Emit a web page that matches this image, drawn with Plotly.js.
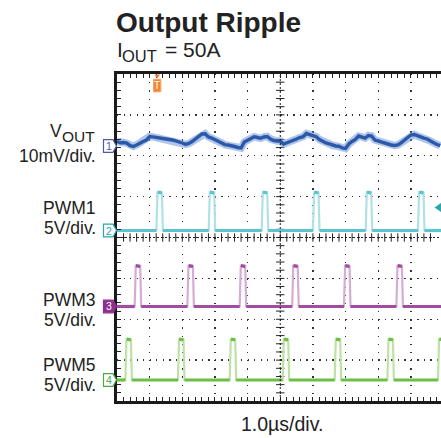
<!DOCTYPE html>
<html><head><meta charset="utf-8">
<script src="https://cdn.plot.ly/plotly-3.0.1.min.js"></script>
<style>html,body{margin:0;padding:0;background:#fff;}#chart{width:441px;height:438px;}</style>
</head><body><div id="chart"></div>
<script>
// ---- data (time in µs, 1.0 µs/div, 0 = left edge of the screen) ----
const voutSampleStepUs = 0.1;
const voutMilliVolts = [
  0.37,0.05,0.12,-0.05,-0.66,-0.85,-0.49,0,0.37,0.73,
  1.59,1.50,1.30,1.15,1.10,0.98,0.95,0.73,0.49,0.32,
  0,-0.35,-0.12,0.37,0.98,1.47,2.20,2.25,1.47,1.22,
  0.86,0.37,0,-0.40,-0.49,-0.61,-0.86,-1.10,-1.22,0.24,
  0.73,1.10,1.54,1.34,1.15,1.47,1.60,0.98,0.61,0.49,
  0.49,-0.24,0.05,0.24,0.61,0.98,1.34,1.55,2.32,2.08,
  1.83,1.54,0.86,0.40,0,-0.24,-0.56,-0.73,-0.80,-1.22,
  -1.34,-0.24,0.37,0.86,1.71,1.50,1.22,1.83,1.71,0.73,
  0.49,0.30,-0.07,-0.37,-0.49,-0.61,-0.49,0.05,0.73,1.22,
  1.96,2.08,1.71,1.50,1.22,0.98,0.49,0,-0.37,-0.66
];
const pwm1RiseUs = [1.216, 2.818, 4.441, 6.012, 7.626, 9.228];
const pwm3RiseUs = [0.551, 2.165, 3.767, 5.375, 6.962, 8.567];
const pwm5RiseUs = [0.266, 1.877, 3.461, 5.084, 6.677, 8.291, 9.841];
const pwmHighVolts = [4.6, 4.9, 4.9];      // PWM1, PWM3, PWM5
const pwmWidthUs = [0.19, 0.19, 0.19];
const channelNames = ['V', 'PWM1', 'PWM3', 'PWM5'];
const channelScaleLabels = ['10mV/div.', '5V/div.', '5V/div.', '5V/div.'];
const channelUnitsPerDiv = [10, 5, 5, 5];   // mV/div for VOUT, V/div for PWM
const timeBaseLabel = '1.0µs/div.';
const titleText = 'Output Ripple';

// ---- screen geometry ----
const L = 117, T = 74, W = 324, H = 327;
const DIV_X_PX = 32.65;
const X_MAX = W / DIV_X_PX;
const X = px => (px - L) / W;          // pixel -> paper x
const Y = py => (T + H - py) / H;      // pixel -> paper y
const chOffsetDiv = [2.312, 0.171, -1.688, -3.486];
const tagDiv = [2.238, 0.171, -1.688, -3.486];
const colors = {
  vout: '#2b58a8', voutHalo: 'rgba(110,150,215,0.55)',
  pwm: ['#5cc3cf', '#a04c9f', '#6cbf45'],
  pwmLight: ['#aee2e8', '#d6abd5', '#bde3a3'],
  tag: ['#4a5aa8', '#2aa5ae', '#8e2f8e', '#4aa84a']
};
const FONT = '"Liberation Sans", Arial, Helvetica, sans-serif';

// ---- build traces ----
const traces = [];
// center crosshair tick marks
const cx = 5, tickX = [], tickY = [], tickX2 = [], tickY2 = [];
for (let k = -19; k <= 19; k++) { tickX.push(cx); tickY.push(k * 0.2); }
for (let k = 1; k < Math.floor(X_MAX / 0.2); k++) { tickX2.push(k * 0.2); tickY2.push(0); }
traces.push({x: tickX, y: tickY, mode: 'markers', hoverinfo: 'skip',
  marker: {symbol: 'line-ew', size: 6, line: {width: 1, color: '#222'}}});
traces.push({x: tickX2, y: tickY2, mode: 'markers', hoverinfo: 'skip',
  marker: {symbol: 'line-ns', size: 6, line: {width: 1, color: '#222'}}});

function pwmTraces(rises, high, width, idx) {
  const off = chOffsetDiv[idx + 1], s = channelUnitsPerDiv[idx + 1];
  const d = v => off + v / s;
  const wx = [0], wy = [d(0)];
  const lx = [0], ly = [d(0)];
  rises.forEach(r => {
    wx.push(r - 0.01, r + 0.025, r + 0.05, r + width - 0.03, r + width);
    wy.push(d(0), d(high * 1.04), d(high), d(high), d(0));
    lx.push(r - 0.01, null, r + 0.03, r + width - 0.03, null, r + width);
    ly.push(d(0), null, d(high * 1.02), d(high), null, d(0));
  });
  wx.push(X_MAX); wy.push(d(0));
  lx.push(X_MAX); ly.push(d(0));
  traces.push({x: wx, y: wy, mode: 'lines', hoverinfo: 'skip',
    line: {color: colors.pwmLight[idx], width: 2.2}});
  traces.push({x: lx, y: ly, mode: 'lines', hoverinfo: 'skip', connectgaps: false,
    line: {color: colors.pwm[idx], width: 3.2}});
}
pwmTraces(pwm1RiseUs, pwmHighVolts[0], pwmWidthUs[0], 0);
pwmTraces(pwm3RiseUs, pwmHighVolts[1], pwmWidthUs[1], 1);
pwmTraces(pwm5RiseUs, pwmHighVolts[2], pwmWidthUs[2], 2);

const vx = voutMilliVolts.map((v, i) => i * voutSampleStepUs);
const vy = voutMilliVolts.map(v => chOffsetDiv[0] + v / channelUnitsPerDiv[0]);
traces.push({x: vx, y: vy, mode: 'lines', hoverinfo: 'skip', line: {color: colors.voutHalo, width: 7.5}});
traces.push({x: vx, y: vy, mode: 'lines', hoverinfo: 'skip', line: {color: colors.vout, width: 3.4}});

// ---- shapes ----
const shapes = [
  {type: 'line', xref: 'x', yref: 'y', x0: cx, x1: cx, y0: -4, y1: 4, line: {color: '#222', width: 1, dash: '2px,2px'}},
  {type: 'line', xref: 'x', yref: 'y', x0: 0, x1: X_MAX, y0: 0, y1: 0, line: {color: '#222', width: 1, dash: '2px,2px'}}
];
const annotations = [];
function txt(text, px, py, size, anchor, opts) {
  annotations.push(Object.assign({text: text, xref: 'paper', yref: 'paper', x: X(px), y: Y(py),
    xanchor: anchor, yanchor: 'middle', showarrow: false, borderpad: 0,
    font: {family: FONT, size: size, color: '#222'}}, opts || {}));
}
// channel tags
for (let i = 0; i < 4; i++) {
  const yc = T + H / 2 - tagDiv[i] * (H / 8);
  const x0 = 103.5, x1 = 113, x2 = 116.5, h = 6.3;
  const p = `M${X(x0)},${Y(yc - h)} L${X(x1)},${Y(yc - h)} L${X(x2)},${Y(yc)} L${X(x1)},${Y(yc + h)} L${X(x0)},${Y(yc + h)} Z`;
  const filled = i === 2;
  shapes.push({type: 'path', xref: 'paper', yref: 'paper', path: p,
    fillcolor: filled ? colors.tag[i] : '#fff', line: {color: colors.tag[i], width: 1.2}});
  txt(String(i + 1), 108.5, yc, 10.5, 'center', {font: {family: FONT, size: 10.5, color: filled ? '#fff' : colors.tag[i]}});
}
// trigger position marker
shapes.push({type: 'path', xref: 'paper', yref: 'paper',
  path: `M${X(154.5)},${Y(74.5)} L${X(160)},${Y(74.5)} L${X(157.2)},${Y(78.5)} Z`, fillcolor: '#f07a2a', line: {width: 0}});
shapes.push({type: 'rect', xref: 'paper', yref: 'paper', x0: X(153.6), x1: X(160.8), y0: Y(91.8), y1: Y(79.3),
  fillcolor: '#f5862f', line: {color: '#f7a060', width: 1}});
txt('T', 157.2, 85.6, 10, 'center', {font: {family: FONT, size: 10, color: '#fff'}});
// trigger level arrow (right edge)
shapes.push({type: 'path', xref: 'paper', yref: 'paper',
  path: `M${X(434.5)},${Y(207.5)} L${X(441)},${Y(203)} L${X(441)},${Y(212)} Z`, fillcolor: '#2aa5ae', line: {width: 0}});

// titles and labels
txt('<b>' + titleText + '</b>', 115.4, 22.5, 28, 'left');
txt('OUT', 96, 136.3, 15.5, 'right');
txt(channelNames[0], 62.6, 131.2, 17.5, 'right');
txt(channelScaleLabels[0], 97, 155.6, 17.5, 'right');
txt(channelNames[1], 97, 207.7, 17.5, 'right');
txt(channelScaleLabels[1], 97, 228, 17.5, 'right');
txt(channelNames[2], 97, 299.7, 17.5, 'right');
txt(channelScaleLabels[2], 97, 319.7, 17.5, 'right');
txt(channelNames[3], 97, 365.4, 17.5, 'right');
txt(channelScaleLabels[3], 97, 385.4, 17.5, 'right');
txt(timeBaseLabel, 281.7, 424.4, 19.5, 'center');
txt('I', 115.5, 49.3, 21, 'left');
txt('OUT', 121, 55.9, 16.5, 'left');
txt('= 50A', 164.2, 49.3, 21, 'left');

const axisCommon = {showticklabels: false, zeroline: false, showline: true, linecolor: '#1a1a1a', linewidth: 3,
  ticks: 'inside', ticklen: 4, tickwidth: 1, tickcolor: '#222', showgrid: true, gridcolor: '#333', gridwidth: 1.3,
  fixedrange: true};
const layout = {
  width: 441, height: 438, margin: {l: L, r: 441 - L - W, t: T, b: 438 - T - H, pad: 0},
  paper_bgcolor: '#fff', plot_bgcolor: '#fff', showlegend: false,
  xaxis: Object.assign({}, axisCommon, {range: [0, X_MAX], tick0: 0, dtick: 1, mirror: 'ticks',
    griddash: '1.3px,6.875px', minor: {dtick: 0.2, ticks: 'inside', ticklen: 4, tickwidth: 1, tickcolor: '#222', showgrid: false}}),
  yaxis: Object.assign({}, axisCommon, {range: [-4, 4], tick0: 0, dtick: 1, mirror: false,
    griddash: '1.3px,5.23px', minor: {dtick: 0.2, ticks: 'inside', ticklen: 4, tickwidth: 1, tickcolor: '#222', showgrid: false}}),
  shapes: shapes, annotations: annotations
};
Plotly.newPlot('chart', traces, layout, {staticPlot: true, displayModeBar: false});
</script></body></html>
